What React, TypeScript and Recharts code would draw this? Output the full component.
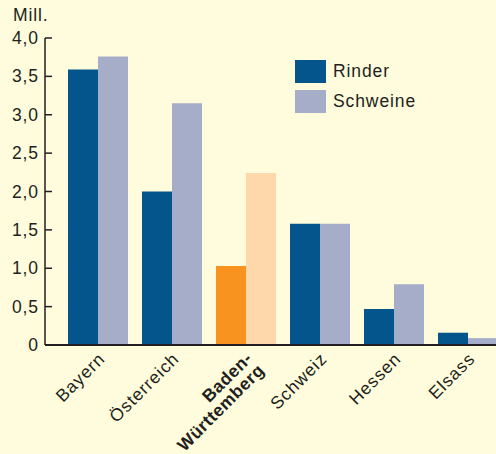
import React from 'react';
import { BarChart, Bar, XAxis, YAxis, Cell } from 'recharts';

const categories = ['Bayern', 'Österreich', 'Baden-Württemberg', 'Schweiz', 'Hessen', 'Elsass'];
const rinder = [3.59, 2.0, 1.03, 1.58, 0.47, 0.16];
const schweine = [3.76, 3.15, 2.24, 1.58, 0.79, 0.09];
const highlight = 'Baden-Württemberg';
const yTicks = [0, 0.5, 1, 1.5, 2, 2.5, 3, 3.5, 4];
const yTickLabels = ['0', '0,5', '1,0', '1,5', '2,0', '2,5', '3,0', '3,5', '4,0'];
const seriesNames = ['Rinder', 'Schweine'];

const BG = '#fefcdc';
const C_RIND = '#04558b';
const C_SCHW = '#a6adc9';
const C_RIND_HL = '#f7931e';
const C_SCHW_HL = '#fed7aa';
const TXT = '#231f20';
const FONT = '"Liberation Sans", Arial, sans-serif';
const FS = 17.5;

const data = categories.map((c, i) => ({ name: c, rinder: rinder[i], schweine: schweine[i] }));

const YTick = (props: any) => {
  const { x, y, payload } = props;
  const idx = yTicks.indexOf(payload.value);
  return (
    <g>
      <line x1={x} y1={y} x2={x + 7} y2={y} stroke={TXT} strokeWidth={1.5} />
      <text x={x - 6} y={y} dy={6} textAnchor="end" fontSize={FS} fill={TXT} fontFamily={FONT} letterSpacing={0.9}>
        {idx >= 0 ? yTickLabels[idx] : payload.value}
      </text>
    </g>
  );
};

const XTick = (props: any) => {
  const { x, y, payload } = props;
  const name: string = payload.value;
  const tx = x + 8;
  const ty = y + 15;
  if (name === highlight) {
    const parts = ['Baden-', 'Württemberg'];
    return (
      <text x={tx} y={ty} textAnchor="end" transform={`rotate(-45 ${tx} ${ty})`} fontSize={FS}
        fontWeight="bold" fill={TXT} fontFamily={FONT} letterSpacing={0.5}>
        <tspan x={tx} dy={-1}>{parts[0]}</tspan>
        <tspan x={tx} dy={17}>{parts[1]}</tspan>
      </text>
    );
  }
  return (
    <text x={tx} y={ty} textAnchor="end" transform={`rotate(-45 ${tx} ${ty})`} fontSize={FS}
      fill={TXT} fontFamily={FONT} letterSpacing={0.9}>
      {name}
    </text>
  );
};

const LegendContent = () => {
  const colors = [C_RIND, C_SCHW];
  return (
    <div style={{ fontFamily: FONT }}>
      {seriesNames.map((n, i) => (
        <div key={n} style={{ display: 'flex', alignItems: 'center', height: 23, marginBottom: 7 }}>
          <div style={{ width: 31, height: 23, background: colors[i] }} />
          <span style={{ marginLeft: 7, fontSize: FS, color: TXT, letterSpacing: 0.9 }}>{n}</span>
        </div>
      ))}
    </div>
  );
};

export default function App() {
  return (
    <div style={{ position: 'absolute', left: 0, top: 0, width: 496, height: 454, overflow: 'hidden', background: BG }}>
      <BarChart width={505} height={454} data={data} margin={{ top: 38, right: 0, left: 0, bottom: 9 }}
        barCategoryGap={7} barGap={0}>
        <XAxis dataKey="name" interval={0} height={100} tickSize={0} tickMargin={0} tickLine={false}
          tick={<XTick />} stroke={TXT} strokeWidth={2} padding={{ left: 16, right: 0 }} />
        <YAxis domain={[0, 4]} ticks={yTicks} width={45} tickSize={0} tickMargin={0} tickLine={false}
          tick={<YTick />} stroke={TXT} strokeWidth={1.5} interval={0}
          label={{
            content: () => (
              <text x={13} y={21} fontSize={FS} fill={TXT} fontFamily={FONT} letterSpacing={0.9}>Mill.</text>
            ),
          }} />
        <Bar dataKey="rinder" name="Rinder" fill={C_RIND} isAnimationActive={false}>
          {data.map((d) => (
            <Cell key={d.name} fill={d.name === highlight ? C_RIND_HL : C_RIND} />
          ))}
        </Bar>
        <Bar dataKey="schweine" name="Schweine" fill={C_SCHW} isAnimationActive={false}>
          {data.map((d) => (
            <Cell key={d.name} fill={d.name === highlight ? C_SCHW_HL : C_SCHW} />
          ))}
        </Bar>
      </BarChart>
      <div style={{ position: 'absolute', left: 295, top: 60 }}>
        <LegendContent />
      </div>
    </div>
  );
}
